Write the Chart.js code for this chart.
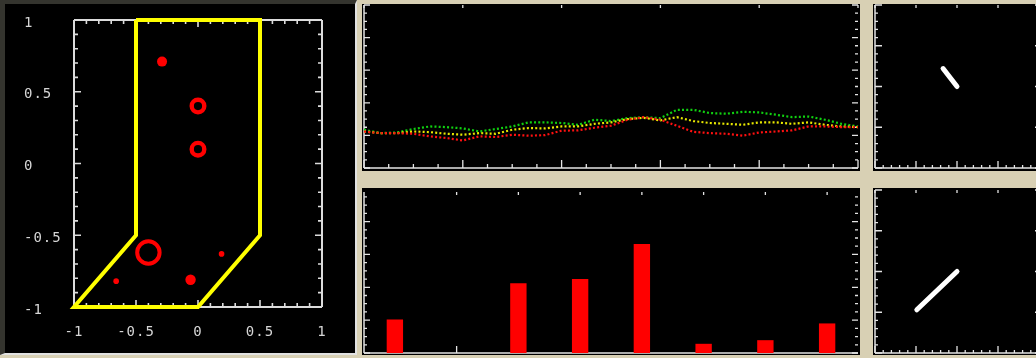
<!DOCTYPE html>
<html>
<head>
<meta charset="utf-8">
<script src="https://cdn.jsdelivr.net/npm/chart.js@4/dist/chart.umd.min.js"></script>
<style>
  html, body { margin: 0; padding: 0; width: 1036px; height: 358px; overflow: hidden; background: #d8d0b4; }
  canvas { position: absolute; display: block; background: #000; }
  #leftPanel {
    position: absolute; left: 0; top: 0; width: 350px; height: 349px; background: #000;
    border-top: 4px solid #34342e; border-left: 5px solid #34342e;
    border-right: 2px solid #e2e2e2; border-bottom: 2px solid #e2e2e2;
  }
</style>
</head>
<body>
<div id="leftPanel"><canvas id="scatter" width="350" height="349" style="left:0;top:0"></canvas></div>
<canvas id="trace" width="498" height="167" style="left:362px;top:4px"></canvas>
<canvas id="bins" width="498" height="167" style="left:362px;top:188px"></canvas>
<canvas id="vecTop" width="170" height="167" style="left:873px;top:4px"></canvas>
<canvas id="vecBottom" width="170" height="167" style="left:873px;top:188px"></canvas>
<script>
// ---- scatter panel: outline and markers ----
const outlineX = [-0.5, 0.5, 0.5, 0, -1, -0.5, -0.5];
const outlineY = [1, 1, -0.5, -1, -1, -0.5, 1];
const dotX = [-0.29, -0.06, 0.19, -0.66];
const dotY = [0.71, -0.81, -0.63, -0.82];
const ringX = [0, 0, -0.40];
const ringY = [0.40, 0.10, -0.62];
const scatterTicks = ['-1', '-0.5', '0', '0.5', '1'];

// ---- trace panel ----
const traceSteps = [0, 1, 2, 3, 4, 5, 6, 7, 8, 9, 10, 11, 12, 13, 14, 15, 16, 17, 18, 19, 20, 21, 22, 23, 24, 25, 26, 27, 28, 29, 30];
const traceRed = [22.4, 21.4, 21.4, 21.0, 19.4, 18.4, 16.9, 19.4, 19.0, 20.4, 19.8, 20.2, 22.9, 23.1, 24.7, 25.9, 29.6, 31.2, 29.6, 25.9, 22.2, 21.4, 21.0, 19.8, 21.8, 22.4, 23.1, 25.5, 25.5, 25.1, 25.1];
const traceYellow = [22.4, 21.4, 21.4, 22.4, 22.0, 21.0, 20.4, 21.4, 21.0, 23.5, 24.5, 24.3, 25.5, 25.5, 27.1, 28.0, 30.0, 30.8, 29.2, 31.2, 28.8, 27.6, 27.1, 26.5, 28.0, 28.0, 27.1, 28.0, 26.5, 25.5, 25.1];
const traceGreen = [23.5, 21.4, 21.8, 23.9, 25.5, 25.1, 24.3, 22.4, 23.9, 25.5, 28.0, 28.0, 27.6, 26.5, 29.6, 28.8, 30.6, 31.2, 30.6, 35.7, 35.7, 33.7, 33.3, 34.5, 34.1, 32.7, 31.2, 31.6, 29.6, 27.1, 25.5];

// ---- histogram panel ----
const binLabels = ['1', '2', '3', '4', '5', '6', '7', '8'];
const binCounts = [1.02, 0, 2.12, 2.25, 3.32, 0.28, 0.39, 0.90];

// ---- vector panels ----
const vecTopX = [0, -0.34];
const vecTopY = [0, 0.44];
const vecBottomX = [0, -0.98];
const vecBottomY = [0, -0.94];

const pts = (xs, ys) => xs.map((x, i) => ({ x, y: ys[i] }));

// Inward tick marks and frame lines drawn from the chart's own scales
function tickList(s) {
  if (s.at) return s.at.map(v => [v, true]);
  const out = [];
  const n = Math.round((s.to - s.from) / s.minor);
  for (let i = 0; i <= n; i++) {
    const v = s.from + i * s.minor;
    const r = v / s.major;
    const major = Math.abs(r - Math.round(r)) < 1e-6;
    if (s.majorOnly && !major) continue;
    out.push([v, major]);
  }
  return out;
}
const frameTicks = {
  id: 'frameTicks',
  beforeDatasetsDraw(chart, args, o) {
    if (!o || !o.color) return;
    const { ctx, chartArea: a, scales } = chart;
    ctx.save();
    ctx.strokeStyle = o.color;
    ctx.lineWidth = o.lineWidth || 1.5;
    ctx.beginPath();
    (o.lines || []).forEach(side => {
      if (side === 'left') { ctx.moveTo(a.left, a.top); ctx.lineTo(a.left, a.bottom); }
      if (side === 'right') { ctx.moveTo(a.right, a.top); ctx.lineTo(a.right, a.bottom); }
      if (side === 'top') { ctx.moveTo(a.left, a.top); ctx.lineTo(a.right, a.top); }
      if (side === 'bottom') { ctx.moveTo(a.left, a.bottom); ctx.lineTo(a.right, a.bottom); }
    });
    ctx.stroke();
    ctx.lineWidth = o.tickWidth || 1.5;
    ctx.beginPath();
    ['left', 'right', 'top', 'bottom'].forEach(side => {
      const s = o[side];
      if (!s) return;
      const vertical = side === 'left' || side === 'right';
      const scale = vertical ? scales.y : scales.x;
      tickList(s).forEach(([v, major]) => {
        const len = major ? s.majorLen : s.minorLen;
        const p = scale.getPixelForValue(v);
        if (side === 'left') { ctx.moveTo(a.left, p); ctx.lineTo(a.left + len, p); }
        if (side === 'right') { ctx.moveTo(a.right, p); ctx.lineTo(a.right - len, p); }
        if (side === 'top') { ctx.moveTo(p, a.top); ctx.lineTo(p, a.top + len); }
        if (side === 'bottom') { ctx.moveTo(p, a.bottom); ctx.lineTo(p, a.bottom - len); }
      });
    });
    ctx.stroke();
    ctx.restore();
  }
};
const spacedText = {
  id: 'spacedText',
  beforeDraw(chart, args, o) { if (o && o.spacing) chart.ctx.letterSpacing = o.spacing; }
};
Chart.register(frameTicks, spacedText);

const base = {
  responsive: false,
  animation: false,
  devicePixelRatio: 1,
  events: [],
};
const quiet = { legend: { display: false }, tooltip: { enabled: false } };
const labelFont = { family: 'DejaVu Sans Mono', size: 14 };

// ---- scatter panel ----
new Chart(document.getElementById('scatter'), {
  type: 'scatter',
  data: {
    datasets: [
      {
        data: pts(dotX, dotY),
        pointRadius: [5, 5.2, 2.8, 2.8],
        pointBackgroundColor: '#ff0000',
        pointBorderWidth: 0,
        clip: 20,
      },
      {
        data: pts(ringX, ringY),
        pointRadius: [6.3, 6.3, 11.2],
        pointBorderWidth: [4.4, 4.4, 4],
        pointBorderColor: '#ff0000',
        pointBackgroundColor: 'rgba(0,0,0,0)',
        clip: 20,
      },
      {
        type: 'line',
        data: pts(outlineX, outlineY),
        borderColor: '#ffff00',
        borderWidth: 4,
        borderJoinStyle: 'miter',
        pointRadius: 0,
        fill: false,
        tension: 0,
        clip: 8,
      },
    ],
  },
  options: {
    ...base,
    layout: { padding: { left: 19, right: 33, top: 16, bottom: 0 } },
    plugins: {
      ...quiet,
      spacedText: { spacing: '1px' },
      frameTicks: {
        color: '#dcdcdc', lineWidth: 2, tickWidth: 1.6,
        lines: ['left', 'right', 'top', 'bottom'],
        left: { from: -1, to: 1, minor: 0.1, major: 0.5, minorLen: 4, majorLen: 7 },
        right: { from: -1, to: 1, minor: 0.1, major: 0.5, minorLen: 4, majorLen: 7 },
        top: { from: -1, to: 1, minor: 0.1, major: 0.5, minorLen: 4, majorLen: 7 },
        bottom: { from: -1, to: 1, minor: 0.1, major: 0.5, minorLen: 4, majorLen: 7 },
      },
    },
    scales: {
      x: {
        type: 'linear', min: -1, max: 1,
        afterFit(s) { s.height = 46; },
        afterBuildTicks(s) { s.ticks = scatterTicks.map(t => ({ value: parseFloat(t), label: t })); },
        grid: { display: false, drawTicks: false },
        border: { display: false },
        ticks: { color: '#d6d6d6', font: labelFont, padding: 17, maxRotation: 0, autoSkip: false,
                 callback: (v, i) => scatterTicks[i] },
      },
      y: {
        type: 'linear', min: -1, max: 1,
        afterFit(s) { s.width = 50; },
        afterBuildTicks(s) { s.ticks = scatterTicks.map(t => ({ value: parseFloat(t), label: t })); },
        grid: { display: false, drawTicks: false },
        border: { display: false },
        ticks: { color: '#d6d6d6', font: labelFont, crossAlign: 'far', labelOffset: 3, autoSkip: false,
                 callback: (v, i) => scatterTicks[i] },
      },
    },
  },
});

// ---- trace panel ----
const dotted = c => ({ borderColor: c, borderWidth: 2.2, borderDash: [2, 2.2], pointRadius: 0, tension: 0, fill: false });
new Chart(document.getElementById('trace'), {
  type: 'line',
  data: {
    labels: traceSteps,
    datasets: [
      { data: traceRed, ...dotted('#ff1010') },
      { data: traceYellow, ...dotted('#e8e800') },
      { data: traceGreen, ...dotted('#10d010') },
    ],
  },
  options: {
    ...base,
    layout: { padding: { left: 2, right: 2, top: 1, bottom: 3 } },
    plugins: {
      ...quiet,
      frameTicks: {
        color: '#e4e4e4', lineWidth: 1.5, tickWidth: 1.3,
        lines: ['left', 'bottom'],
        left: { from: 0, to: 100, minor: 5, major: 20, minorLen: 3, majorLen: 6 },
        right: { from: 0, to: 100, minor: 5, major: 20, minorLen: 3, majorLen: 6 },
        top: { from: 0, to: 30, minor: 6, major: 6, minorLen: 3, majorLen: 3 },
        bottom: { from: 0, to: 30, minor: 1.5, major: 6, minorLen: 4, majorLen: 8 },
      },
    },
    scales: {
      x: { display: false },
      y: { display: false, min: 0, max: 100 },
    },
  },
});

// ---- histogram panel ----
new Chart(document.getElementById('bins'), {
  type: 'bar',
  data: {
    labels: binLabels,
    datasets: [{ data: binCounts, backgroundColor: '#ff0000', barPercentage: 0.265, categoryPercentage: 1 }],
  },
  options: {
    ...base,
    layout: { padding: { left: 2, right: 2, top: 4, bottom: 2 } },
    plugins: {
      ...quiet,
      frameTicks: {
        color: '#e4e4e4', lineWidth: 1.5, tickWidth: 1.3,
        lines: ['left', 'bottom'],
        left: { from: 0, to: 4.75, minor: 0.25, major: 1, minorLen: 3, majorLen: 6 },
        right: { from: 0, to: 4.75, minor: 0.25, major: 1, minorLen: 3, majorLen: 6 },
        top: { at: [1, 2, 3, 4, 5, 6, 7], majorLen: 3 },
        bottom: { at: [1, 2, 3, 4, 5, 6, 7], majorLen: 7 },
      },
    },
    scales: {
      x: { display: false },
      y: { display: false, min: 0, max: 4.9 },
    },
  },
});

// ---- vector panels ----
function vectorChart(id, xs, ys, pad) {
  new Chart(document.getElementById(id), {
    type: 'line',
    data: {
      datasets: [{
        data: pts(xs, ys), borderColor: '#ffffff', borderWidth: 5,
        borderCapStyle: 'round', pointRadius: 0, tension: 0, fill: false,
      }],
    },
    options: {
      ...base,
      layout: { padding: pad },
      plugins: {
        ...quiet,
        frameTicks: {
          color: '#e4e4e4', lineWidth: 1.5, tickWidth: 1.3,
          lines: ['left', 'bottom'],
          left: { from: -2, to: 2, minor: 0.2, major: 1, minorLen: 3, majorLen: 7 },
          right: { from: -2, to: 2, minor: 1, major: 1, minorLen: 4, majorLen: 4 },
          top: { from: -2, to: 2, minor: 1, major: 1, minorLen: 3, majorLen: 3 },
          bottom: { from: -2, to: 2, minor: 0.2, major: 1, minorLen: 3, majorLen: 7 },
        },
      },
      scales: {
        x: { type: 'linear', display: false, min: -2, max: 2 },
        y: { type: 'linear', display: false, min: -2, max: 2 },
      },
    },
  });
}
vectorChart('vecTop', vecTopX, vecTopY, { left: 2, right: 4, top: 1, bottom: 3 });
vectorChart('vecBottom', vecBottomX, vecBottomY, { left: 2, right: 4, top: 2, bottom: 2 });
</script>
</body>
</html>
